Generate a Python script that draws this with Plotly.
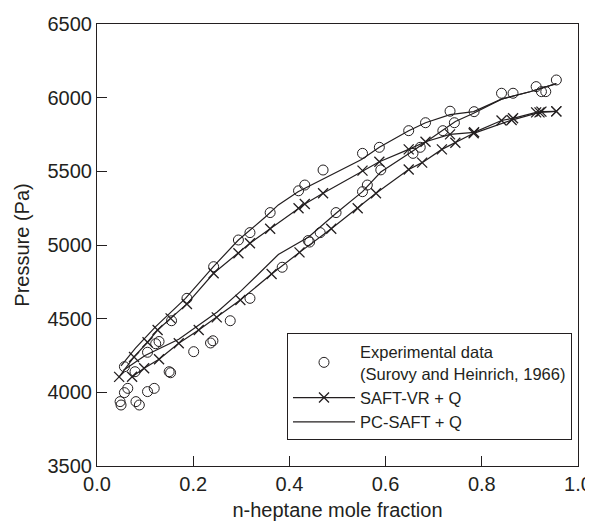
import plotly.graph_objects as go

# experimental data (Surovy and Heinrich, 1966)
exp_x = [0.057, 0.105, 0.122, 0.129, 0.155, 0.187, 0.2425, 0.294, 0.318, 0.36, 0.419, 0.432,
         0.47, 0.552, 0.587, 0.648, 0.683, 0.734, 0.784, 0.841, 0.865, 0.913, 0.924, 0.933, 0.955,
         0.048, 0.05, 0.057, 0.064, 0.081, 0.088, 0.105, 0.119, 0.079, 0.15, 0.153, 0.201,
         0.236, 0.241, 0.277, 0.318, 0.385, 0.439, 0.442, 0.464, 0.497, 0.552, 0.562, 0.59,
         0.657, 0.672, 0.719, 0.743]
exp_p = [4174, 4272, 4330, 4345, 4486, 4638, 4853, 5034, 5084, 5220, 5368, 5407,
         5509, 5622, 5663, 5776, 5830, 5908, 5905, 6030, 6030, 6075, 6041, 6041, 6120,
         3937, 3914, 3998, 4027, 3937, 3914, 4005, 4027, 4140, 4140, 4133, 4276,
         4335, 4350, 4486, 4638, 4849, 5030, 5020, 5084, 5220, 5362, 5407, 5510,
         5622, 5663, 5776, 5830]

# SAFT-VR + Q, upper and lower branches
saft_up_x = [0.046, 0.077, 0.105, 0.126, 0.153, 0.187, 0.2425, 0.294, 0.318, 0.36, 0.419, 0.432,
             0.47, 0.552, 0.587, 0.648, 0.683, 0.734, 0.784, 0.841, 0.865, 0.913, 0.924, 0.955]
saft_up_p = [4105, 4240, 4340, 4423, 4502, 4600, 4808, 4944, 5012, 5110, 5249, 5278,
             5351, 5505, 5565, 5649, 5701, 5751, 5765, 5845, 5860, 5900, 5905, 5907]
saft_lo_x = [0.073, 0.098, 0.129, 0.17, 0.2115, 0.249, 0.298, 0.363, 0.421, 0.487, 0.542, 0.58,
             0.648, 0.676, 0.717, 0.745, 0.783, 0.862, 0.92, 0.955]
saft_lo_p = [4106, 4163, 4225, 4333, 4423, 4509, 4627, 4803, 4950, 5110, 5249, 5351,
             5512, 5559, 5649, 5694, 5758, 5848, 5900, 5907]

# PC-SAFT + Q, upper and lower branches
pc_up_x = [0.05, 0.08, 0.122, 0.184, 0.2425, 0.294, 0.35, 0.377, 0.418, 0.48, 0.55, 0.587,
           0.648, 0.683, 0.734, 0.783, 0.841, 0.9, 0.955]
pc_up_p = [4180, 4300, 4446, 4638, 4855, 5034, 5190, 5272, 5362, 5464, 5580, 5663,
           5776, 5830, 5885, 5905, 5990, 6040, 6095]
pc_lo_x = [0.055, 0.1, 0.17, 0.25, 0.3, 0.377, 0.44, 0.497, 0.552, 0.59, 0.655, 0.72,
           0.745, 0.783, 0.841, 0.9, 0.955]
pc_lo_p = [4150, 4250, 4360, 4545, 4690, 4935, 5055, 5215, 5362, 5495, 5634, 5780,
           5838, 5894, 5990, 6040, 6095]

INK = "#231f20"
FONT = "Liberation Sans, Arial, sans-serif"

fig = go.Figure()
fig.add_trace(go.Scatter(
    x=exp_x, y=exp_p, mode="markers",
    name="Experimental data<br>(Surovy and Heinrich, 1966)",
    marker=dict(symbol="circle-open", size=10, color=INK, line=dict(width=1)),
))
for i, (xs, ps) in enumerate([(saft_up_x, saft_up_p), (saft_lo_x, saft_lo_p)]):
    fig.add_trace(go.Scatter(
        x=xs, y=ps, mode="lines+markers", name="SAFT-VR + Q",
        legendgroup="saft", showlegend=(i == 0),
        line=dict(color=INK, width=1.2),
        marker=dict(symbol="x-thin-open", size=10, color=INK, line=dict(width=1.3, color=INK)),
    ))
for i, (xs, ps) in enumerate([(pc_up_x, pc_up_p), (pc_lo_x, pc_lo_p)]):
    fig.add_trace(go.Scatter(
        x=xs, y=ps, mode="lines", name="PC-SAFT + Q",
        legendgroup="pc", showlegend=(i == 0),
        line=dict(color=INK, width=1.2),
    ))

axis_style = dict(
    showline=True, linecolor=INK, linewidth=1, mirror=True,
    ticks="inside", ticklen=10, tickwidth=1, tickcolor=INK,
    showgrid=False, zeroline=False, automargin=False,
    tickfont=dict(size=20, color=INK, family=FONT),
)
# page body adds an 8px offset, margins are set with that in mind
fig.update_layout(
    width=593, height=527,
    margin=dict(l=89, r=23, t=16, b=69),
    plot_bgcolor="white", paper_bgcolor="white",
    font=dict(family=FONT, color=INK),
    xaxis=dict(range=[0, 1], tickvals=[0, 0.2, 0.4, 0.6, 0.8, 1.0], tickformat=".1f",
               title=dict(text="n-heptane mole fraction", font=dict(size=20), standoff=8),
               **axis_style),
    yaxis=dict(range=[3500, 6500], tickvals=[3500, 4000, 4500, 5000, 5500, 6000, 6500],
               title=dict(text="Pressure (Pa)", font=dict(size=20), standoff=12),
               **axis_style),
    legend=dict(x=0.395, y=0.3, xanchor="left", yanchor="top",
                bordercolor=INK, borderwidth=1, bgcolor="white",
                font=dict(size=16.5, color=INK), itemwidth=62, tracegroupgap=0),
    showlegend=True,
)

fig.write_html("out.html")
